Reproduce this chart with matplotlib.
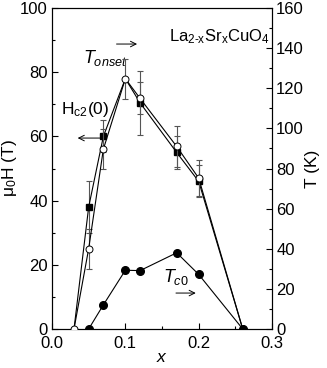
import matplotlib
matplotlib.use("Agg")
import matplotlib.pyplot as plt
from matplotlib.ticker import MultipleLocator

plt.rcParams['font.family'] = ['Liberation Sans', 'DejaVu Sans']
plt.rcParams['mathtext.fontset'] = 'custom'
plt.rcParams['mathtext.rm'] = 'Liberation Sans'
plt.rcParams['mathtext.it'] = 'Liberation Sans:italic'

# Hc2(0) (left axis, T)
x_hc2 = [0.03, 0.05, 0.07, 0.10, 0.12, 0.17, 0.20, 0.26]
hc2 = [0, 38, 60, 78, 70.5, 55, 46, 0]
hc2_err_x = [0.05, 0.07, 0.12, 0.17, 0.20]
hc2_err_y = [38, 60, 70.5, 55, 46]
hc2_err = [8, 5, 10, 5, 5]

# T_onset (right axis, K)
x_on = [0.03, 0.05, 0.07, 0.10, 0.12, 0.17, 0.20, 0.26]
t_on = [0, 40, 89.6, 124.8, 115, 91, 75.2, 0]
on_err_x = [0.05, 0.07, 0.10, 0.12, 0.17, 0.20]
on_err_y = [40, 89.6, 124.8, 115, 91, 75.2]
on_err = [10, 10, 10, 8, 10, 9]

# T_c0 (right axis, K)
x_c0 = [0.05, 0.07, 0.10, 0.12, 0.17, 0.20, 0.26]
t_c0 = [0, 12, 29.3, 29.1, 38, 27.2, 0]

fig = plt.figure(figsize=(3.27, 3.68), dpi=100)
ax = fig.add_axes([0.159, 0.106, 0.673, 0.872])
ax2 = ax.twinx()

lw = 0.8
ax2.errorbar(on_err_x, on_err_y, yerr=on_err, fmt='none', ecolor='#555555',
             elinewidth=0.8, capsize=2.5, capthick=0.8, zorder=2)
ax.errorbar(hc2_err_x, hc2_err_y, yerr=hc2_err, fmt='none', ecolor='#555555',
            elinewidth=0.8, capsize=2.5, capthick=0.8, zorder=2)

ax.plot(x_hc2, hc2, '-s', color='black', lw=lw, ms=4.5, mfc='black', zorder=3,
        markevery=[1, 2, 4, 5, 6])
ax2.plot(x_on, t_on, '-o', color='black', lw=lw, ms=5, mfc='white', mew=0.7, zorder=4)
ax2.plot(x_c0, t_c0, '-o', color='black', lw=lw, ms=5.5, mfc='black', zorder=4)

ax.set_xlim(0, 0.3)
ax.set_ylim(0, 100)
ax2.set_ylim(0, 160)
ax.xaxis.set_major_locator(MultipleLocator(0.1))
ax.xaxis.set_minor_locator(MultipleLocator(0.05))
ax.yaxis.set_major_locator(MultipleLocator(20))
ax.yaxis.set_minor_locator(MultipleLocator(10))
ax2.yaxis.set_major_locator(MultipleLocator(20))
ax2.yaxis.set_minor_locator(MultipleLocator(10))
ax.xaxis.set_major_formatter(matplotlib.ticker.FormatStrFormatter('%.1f'))

for a in (ax, ax2):
    a.tick_params(which='both', direction='in', labelsize=12, width=0.8)
    a.tick_params(which='major', length=4)
    a.tick_params(which='minor', length=2)
ax.tick_params(axis='x', which='both', top=False, pad=5)
ax.tick_params(axis='y', pad=3)
ax2.tick_params(axis='y', pad=3)

ax.set_xlabel('$x$', fontsize=12.5, labelpad=-1)
ax.set_ylabel(r'$\mathrm{\mu_0H\ (T)}$', fontsize=12.5, labelpad=1)
ax2.set_ylabel('T (K)', fontsize=12.5, labelpad=1)

arrow = dict(arrowstyle='->', lw=0.7, color='black', shrinkA=0, shrinkB=0)

ax.text(0.99, 0.912, r'$\mathrm{La_{2\text{-}x}Sr_xCuO_4}$', transform=ax.transAxes,
        ha='right', va='center', fontsize=12)
ax.text(0.042, 84.3, r'$T_{onset}$', fontsize=13, ha='left', va='center')
ax.annotate('', xy=(0.116, 88.8), xytext=(0.088, 88.8), arrowprops=arrow)
ax.text(0.012, 68.5, r'$\mathrm{H_{c2}(0)}$', fontsize=12.5, ha='left', va='center')
ax.annotate('', xy=(0.035, 59.5), xytext=(0.065, 59.5), arrowprops=arrow)
ax.text(0.151, 16.2, r'$T_{c0}$', fontsize=13, ha='left', va='center')
ax.annotate('', xy=(0.196, 11.2), xytext=(0.169, 11.2), arrowprops=arrow)

fig.savefig('out.png', dpi=100)
